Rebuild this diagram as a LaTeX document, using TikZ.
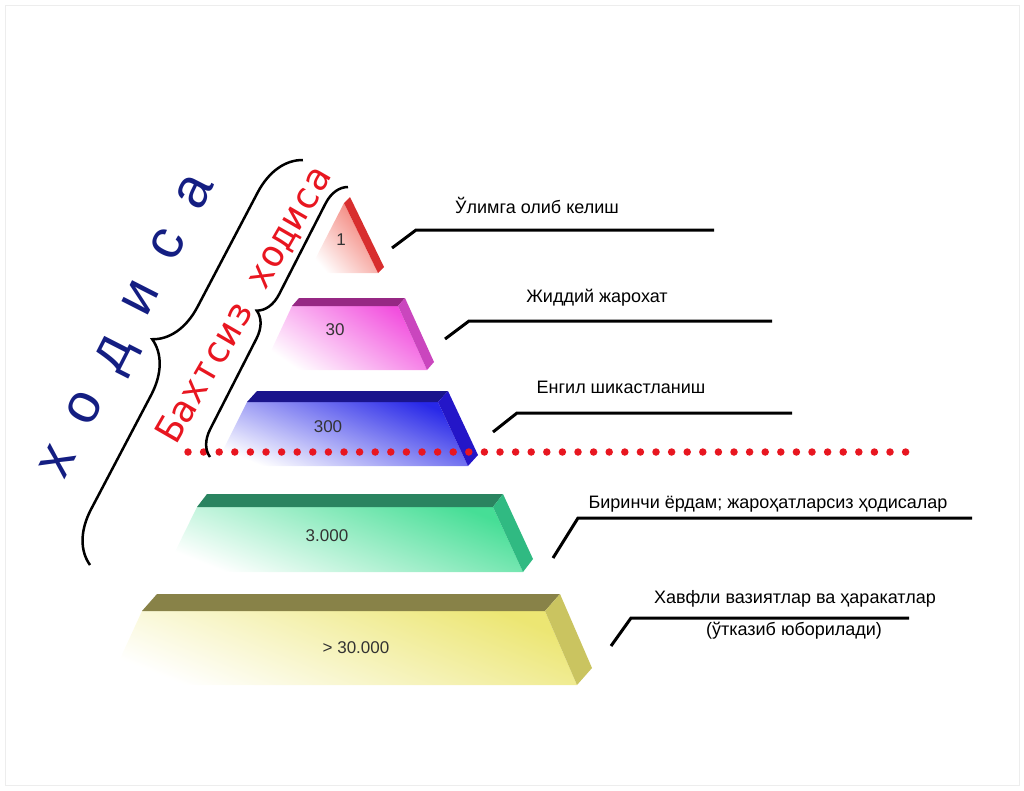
\documentclass[tikz,border=0pt]{standalone}
\usepackage{fontspec}
\setmainfont{Liberation Sans}
\newfontfamily\baxfont{DejaVu Sans Mono}
\usepackage{xcolor}
\usepackage{tikz}
\usetikzlibrary{decorations.pathreplacing}

\definecolor{hodblue}{RGB}{20,30,130}
\definecolor{baxred}{RGB}{232,22,32}
% 各层颜色
\definecolor{yfront}{RGB}{236,230,115}
\definecolor{ytop}{RGB}{136,130,72}
\definecolor{yside}{RGB}{202,196,96}
\definecolor{gfront}{RGB}{70,222,150}
\definecolor{gtop}{RGB}{42,132,96}
\definecolor{gside}{RGB}{48,186,130}
\definecolor{bfront}{RGB}{40,40,232}
\definecolor{btop}{RGB}{26,20,140}
\definecolor{bside}{RGB}{36,22,200}
\definecolor{mfront}{RGB}{242,80,222}
\definecolor{mtop}{RGB}{150,40,132}
\definecolor{mside}{RGB}{202,70,190}
\definecolor{rfront}{RGB}{242,120,110}
\definecolor{rside}{RGB}{216,46,46}
\newcommand{\hodgap}{\hspace{30pt}}

\begin{document}
\begin{tikzpicture}[x=1pt,y=-1pt,
    lead/.style={line width=3pt, black},
    face/.style={top color=#1, middle color=#1!65!white, bottom color=white, shading angle=-22},
    num/.style={font=\fontsize{17}{19}\selectfont, text=black!80},
    lbl/.style={font=\fontsize{18}{20}\selectfont},
    brc/.style={line width=2.5pt, decorate, decoration={brace, amplitude=#1}},
    dotline/.style={baxred, line width=7.5pt, line cap=round, dash pattern=on 0pt off 15.6pt}]
                \useasboundingbox (0,0) rectangle (1024,790);
                \draw[black!7] (5,5) rectangle (1019,785);

                % 第五层 > 30.000
                \shade[face=yfront] (108,685) -- (142,611) -- (545,611) -- (577,685) -- cycle;
                \fill[ytop] (142,611) -- (157,594) -- (560,594) -- (545,611) -- cycle;
                \fill[yside] (545,611) -- (560,594) -- (592,668) -- (577,685) -- cycle;
                \node[num] (n5) at (356,648) {> 30.000};

                % 第四层 3.000
                \shade[face=gfront] (165,572) -- (197,507) -- (493,507) -- (523,572) -- cycle;
                \fill[gtop] (197,507) -- (207,494) -- (503,494) -- (493,507) -- cycle;
                \fill[gside] (493,507) -- (503,494) -- (533,559) -- (523,572) -- cycle;
                \node[num] (n4) at (327,536) {3.000};

                % 第三层 300
                \shade[face=bfront] (215,466) -- (247,402) -- (438,402) -- (468,466) -- cycle;
                \fill[btop] (247,402) -- (257,391) -- (448,391) -- (438,402) -- cycle;
                \fill[bside] (438,402) -- (448,391) -- (478,455) -- (468,466) -- cycle;
                \node[num] (n3) at (328,427) {300};

                % 第二层 30
                \shade[face=mfront, shading angle=-35] (262,370) -- (292,306) -- (398,306) -- (427,370) -- cycle;
                \fill[mtop] (292,306) -- (299,298) -- (405,298) -- (398,306) -- cycle;
                \fill[mside] (398,306) -- (405,298) -- (434,362) -- (427,370) -- cycle;
                \node[num] (n2) at (335,330) {30};

                % 顶层 1
                \shade[top color=rfront, bottom color=white, shading angle=-50] (308,273) -- (344,203) -- (378,273) -- cycle;
                \fill[rside] (344,203) -- (350,197) -- (384,267) -- (378,273) -- cycle;
                \node[num] (n1) at (341,240) {1};

                % 红色虚线
                \coordinate (dl) at (188,452);
                \coordinate (dr) at (912,452);
                \draw[dotline] (dl) -- (dr);

                % 说明文字和引线
                \node[lbl] (t1) at (537,205) {Ўлимга олиб келиш};
                \coordinate (a1) at (392,248);
                \coordinate (b1) at (416,230);
                \coordinate (c1) at (714,230);
                \draw[lead] (a1) -- (b1) -- (c1);

                \node[lbl] (t2) at (597,298) {Жиддий жарохат};
                \coordinate (a2) at (445,339);
                \coordinate (b2) at (469,321);
                \coordinate (c2) at (772,321);
                \draw[lead] (a2) -- (b2) -- (c2);

                \node[lbl] (t3) at (621,387) {Енгил шикастланиш};
                \coordinate (a3) at (493,432);
                \coordinate (b3) at (517,413);
                \coordinate (c3) at (792,413);
                \draw[lead] (a3) -- (b3) -- (c3);

                \node[lbl] (t4) at (768,504) {Биринчи ёрдам; жароҳатларсиз ҳодисалар};
                \coordinate (a4) at (553,558);
                \coordinate (b4) at (578,518);
                \coordinate (c4) at (972,518);
                \draw[lead] (a4) -- (b4) -- (c4);

                \node[lbl] (t5) at (795,599) {Хавфли вазиятлар ва ҳаракатлар};
                \node[lbl] (t6) at (794,631) {(ўтказиб юборилади)};
                \coordinate (a5) at (611,646);
                \coordinate (b5) at (631,618);
                \coordinate (c5) at (909,618);
                \draw[lead] (a5) -- (b5) -- (c5);

                % 括号
                \coordinate (o1) at (90,565);
                \coordinate (o2) at (303,160);
                \draw[brc=50pt] (o1) -- (o2);
                \coordinate (i1) at (210,457);
                \coordinate (i2) at (348,187);
                \draw[brc=25pt] (i1) -- (i2);

                % 斜体标题
                \node[rotate=63, text=hodblue, font=\fontsize{56}{60}\selectfont] (hod) at (131,328)
                    {х\hodgap о\hodgap д\hodgap и\hodgap с\hodgap а};
                \node[rotate=60, text=baxred, font=\baxfont\fontsize{37}{40}\selectfont] (bax) at (245,305) {Бахтсиз ходиса};
            \end{tikzpicture}
\end{document}
